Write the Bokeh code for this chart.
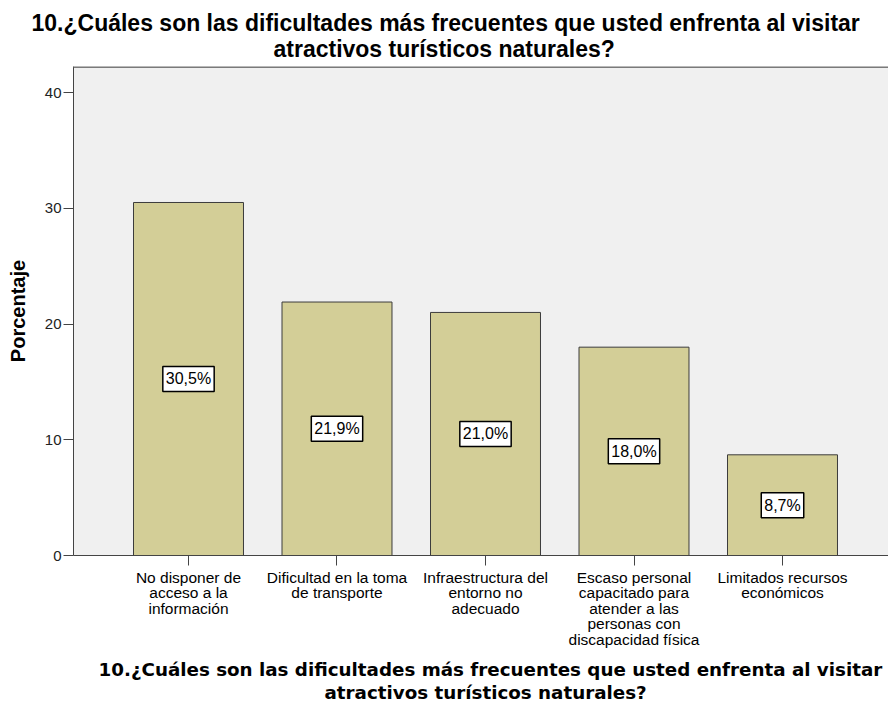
from bokeh.plotting import figure
from bokeh.models import ColumnDataSource, FixedTicker, Range1d, Title, Span
from bokeh.core.properties import value
from bokeh.embed import file_html
from bokeh.resources import INLINE

categories = [
    "No disponer de\nacceso a la\ninformación",
    "Dificultad en la toma\nde transporte",
    "Infraestructura del\nentorno no\nadecuado",
    "Escaso personal\ncapacitado para\natender a las\npersonas con\ndiscapacidad física",
    "Limitados recursos\neconómicos",
]
values = [30.5, 21.9, 21.0, 18.0, 8.7]
value_labels = ["30,5%", "21,9%", "21,0%", "18,0%", "8,7%"]
y_ticks = [0, 10, 20, 30, 40]
title_line1 = "10.¿Cuáles son las dificultades más frecuentes que usted enfrenta al visitar"
title_line2 = "atractivos turísticos naturales?"
y_title = "Porcentaje"

xs = list(range(1, len(categories) + 1))
src = ColumnDataSource(dict(x=xs, top=values, mid=[v / 2 for v in values], lab=value_labels))

Y_MAX = 42.25
p = figure(width=888, height=703, output_backend="svg", toolbar_location=None,
           x_range=Range1d(0.2256, 5.7138), y_range=Range1d(0, Y_MAX),
           min_border_left=73, min_border_right=0, min_border_top=66, min_border_bottom=148)

p.background_fill_color = "#F0F0F0"
p.border_fill_color = "white"
p.outline_line_color = None
p.xgrid.visible = False
p.ygrid.visible = False
p.add_layout(Span(location=Y_MAX, dimension="width", line_color="#7a7a7a", line_width=3))

p.vbar(x="x", top="top", width=0.7407, source=src, fill_color="#D3CE97",
       line_color="#3C3C3C", line_width=1)

p.text(x="x", y="mid", text="lab", source=src, text_align="center",
       text_baseline="middle", text_font=value("Liberation Sans"), text_font_size="16px",
       text_color="black", background_fill_color="white",
       border_line_color="black", border_line_width=1.5, padding=(3, 4))

def make_title(txt, font, size, offset, standoff):
    return Title(text=txt, align="left", offset=offset, standoff=standoff,
                 text_font=font, text_font_size=size, text_font_style="bold",
                 text_color="black")

# titles above (first added = nearest the frame)
p.add_layout(make_title(title_line2, "Liberation Sans", "23px", 200, 10), "above")
p.add_layout(make_title(title_line1, "Liberation Sans", "23px", -42, -14), "above")

# titles below (first added = nearest the axis)
p.add_layout(make_title(title_line1, "DejaVu Sans", "18.3px", 25, 10), "below")
p.add_layout(make_title(title_line2, "DejaVu Sans", "18.3px", 251, -10), "below")

# y axis
p.yaxis.ticker = FixedTicker(ticks=y_ticks)
p.yaxis.minor_tick_line_color = None
p.yaxis.major_tick_out = 10
p.yaxis.major_tick_in = 0
p.yaxis.axis_line_color = "#444444"
p.yaxis.major_tick_line_color = "#444444"
p.yaxis.major_label_text_font = "Liberation Sans"
p.yaxis.major_label_text_font_size = "15px"
p.yaxis.major_label_text_color = "#222222"
p.yaxis.major_label_standoff = 2
p.yaxis.axis_label = y_title
p.yaxis.axis_label_text_font = "Liberation Sans"
p.yaxis.axis_label_text_font_size = "20px"
p.yaxis.axis_label_text_font_style = "bold"
p.yaxis.axis_label_text_color = "black"
p.yaxis.axis_label_standoff = 13

# x axis
p.xaxis.ticker = FixedTicker(ticks=xs)
p.xaxis.major_label_overrides = {x: c for x, c in zip(xs, categories)}
p.xaxis.minor_tick_line_color = None
p.xaxis.major_tick_out = 10
p.xaxis.major_tick_in = 0
p.xaxis.axis_line_color = "#444444"
p.xaxis.major_tick_line_color = "#444444"
p.xaxis.major_label_text_font = "Liberation Sans"
p.xaxis.major_label_text_font_size = "15.5px"
p.xaxis.major_label_text_line_height = 0.92
p.xaxis.major_label_text_color = "black"
p.xaxis.major_label_standoff = 3

open("out.html", "w").write(file_html(p, INLINE))
